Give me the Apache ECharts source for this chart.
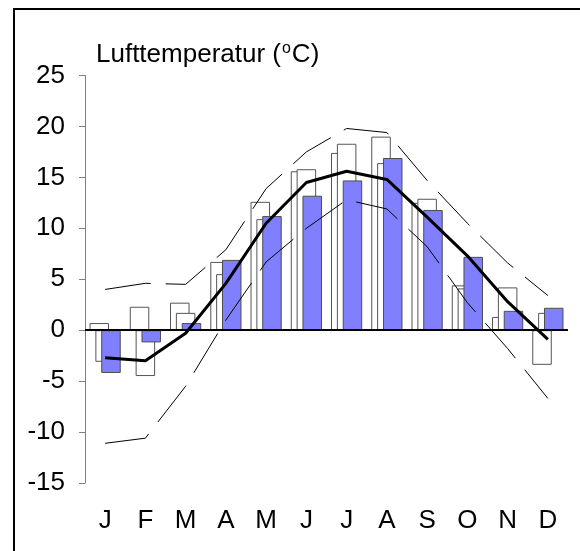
<!DOCTYPE html>
<html>
<head>
<meta charset="utf-8">
<script src="https://cdn.jsdelivr.net/npm/echarts@6/dist/echarts.min.js"></script>
<style>
  html, body { margin: 0; padding: 0; background: #ffffff; }
  #chart { width: 580px; height: 551px; }
</style>
</head>
<body>
<div id="chart"></div>
<script>
// Monthly air temperature (°C)
const months = ['J', 'F', 'M', 'A', 'M', 'J', 'J', 'A', 'S', 'O', 'N', 'D'];

// two reference years (white bars) and the current year (blue bars)
const yearA = [0.7, 2.3, 2.7, 6.7, 12.6, 15.6, 17.4, 19.0, 12.5, 4.4, 1.3, -3.4];
const yearB = [-3.1, -4.5, 1.7, 5.5, 10.9, 15.8, 18.3, 16.4, 12.9, 4.1, 4.2, 1.7];
const yearCurrent = [-4.2, -1.2, 0.7, 6.9, 11.2, 13.2, 14.7, 16.9, 11.8, 7.2, 1.9, 2.2];

// long-term mean and its upper / lower envelope
const meanTemp = [-2.7, -3.0, -0.3, 4.6, 10.5, 14.5, 15.6, 14.8, 11.1, 7.3, 2.8, -0.9];
const upperTemp = [4.0, 4.6, 4.5, 7.9, 13.9, 17.5, 19.8, 19.4, 14.7, 10.5, 6.6, 3.4];
const lowerTemp = [-11.1, -10.6, -5.5, 1.0, 6.7, 10.0, 12.8, 11.9, 8.2, 2.7, -1.8, -6.7];

// value axis range
const yMin = -15;
const yMax = 25;
const yStep = 5;

const FONT = '"Liberation Sans", Arial, sans-serif';
const FONT_SIZE = 26;
const BAR_W = 19.5;

const chart = echarts.init(document.getElementById('chart'), null, { renderer: 'canvas' });

function whiteBar(name, data) {
  return {
    name, type: 'bar', data,
    barWidth: BAR_W, barGap: '-70%',
    itemStyle: { color: '#ffffff', borderColor: '#555555', borderWidth: 1 },
    silent: true, animation: false
  };
}

function envelope(name, data) {
  return {
    name, type: 'line', data,
    symbol: 'none', silent: true, animation: false,
    lineStyle: { color: '#000000', width: 1, type: [46, 15] }
  };
}

chart.setOption({
  backgroundColor: '#ffffff',
  animation: false,
  title: {
    text: 'Lufttemperatur ({sup|o}C)',
    left: 96, top: 41,
    padding: 0,
    textStyle: {
      fontFamily: FONT, fontSize: FONT_SIZE, fontWeight: 'normal', color: '#000000',
      lineHeight: 28,
      rich: {
        sup: { fontFamily: FONT, fontSize: 16, color: '#000000', verticalAlign: 'top', lineHeight: 28, padding: [0, 1, 14, 1] }
      }
    }
  },
  graphic: [{
    type: 'rect',
    shape: { x: 14, y: 9, width: 800, height: 800 },
    style: { fill: 'none', stroke: '#000000', lineWidth: 2 },
    silent: true
  }],
  grid: { left: 85, right: 12, top: 75.5, bottom: 68, containLabel: false },
  xAxis: {
    type: 'category',
    data: months,
    axisLine: { show: false },
    axisTick: { show: false },
    axisLabel: { fontFamily: FONT, fontSize: FONT_SIZE, color: '#000000', margin: 25 }
  },
  yAxis: {
    type: 'value',
    min: yMin, max: yMax, interval: yStep,
    axisLine: { show: true, lineStyle: { color: '#808080', width: 1 } },
    axisTick: { show: true, length: 6, lineStyle: { color: '#808080', width: 1 } },
    splitLine: { show: false },
    axisLabel: { fontFamily: FONT, fontSize: FONT_SIZE, color: '#000000', margin: 20 }
  },
  series: [
    whiteBar('Jahr A', yearA),
    whiteBar('Jahr B', yearB),
    {
      name: 'aktuelles Jahr', type: 'bar', data: yearCurrent,
      barWidth: BAR_W, barGap: '-70%',
      itemStyle: { color: '#8080ff', borderColor: '#4d4d4d', borderWidth: 1 },
      silent: true, animation: false
    },
    envelope('Maximum', upperTemp),
    envelope('Minimum', lowerTemp),
    {
      name: 'Mittel', type: 'line', data: meanTemp,
      symbol: 'none', silent: true, animation: false,
      lineStyle: { color: '#000000', width: 3 },
      markLine: {
        silent: true, symbol: ['none', 'none'], label: { show: false },
        lineStyle: { color: '#000000', width: 2, type: 'solid' },
        data: [{ yAxis: 0 }]
      }
    }
  ]
});
</script>
</body>
</html>
